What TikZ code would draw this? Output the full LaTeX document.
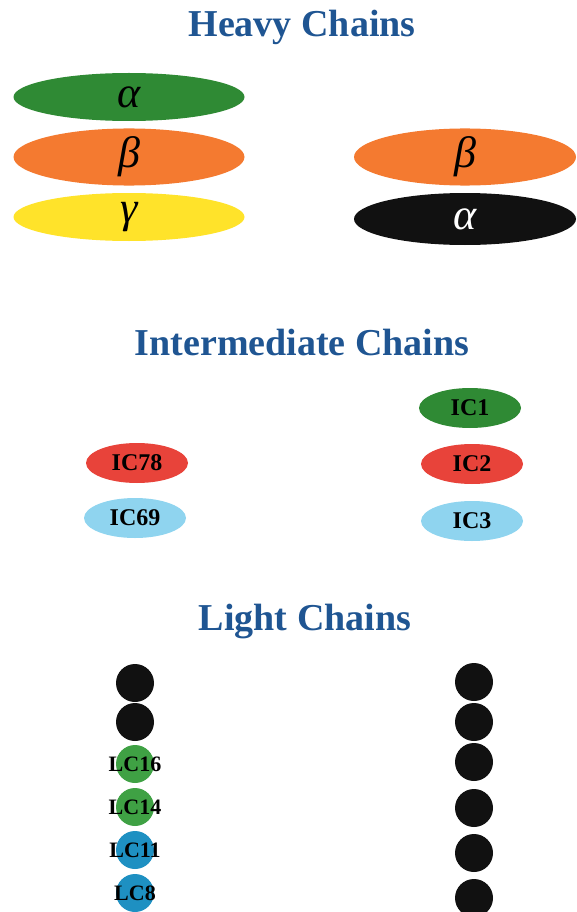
\documentclass[tikz,border=0pt]{standalone}
\usepackage{fontspec}
\setmainfont{Liberation Serif}
\usetikzlibrary{shapes.geometric}
\definecolor{titleblue}{HTML}{1F5592}
\definecolor{hgreen}{HTML}{2F8A34}
\definecolor{horange}{HTML}{F47A30}
\definecolor{hyellow}{HTML}{FFE32A}
\definecolor{hblack}{HTML}{111111}
\definecolor{ired}{HTML}{E8433A}
\definecolor{iblue}{HTML}{8FD4EF}
\definecolor{lgreen}{HTML}{3FA144}
\definecolor{lblue}{HTML}{1E90C2}
\begin{document}
\begin{tikzpicture}[x=1pt,y=-1pt,
  title/.style={text=titleblue,font=\fontsize{38}{42}\selectfont\bfseries,inner sep=0pt},
  hc/.style={ellipse,draw=none,minimum width=231pt,minimum height=48pt,inner sep=0pt,font=\fontsize{44}{44}\selectfont\itshape},
  ic/.style={ellipse,draw=none,minimum width=102pt,minimum height=40pt,inner sep=0pt,font=\fontsize{24}{24}\selectfont\bfseries},
  lc/.style={circle,draw=none,minimum size=38pt,inner sep=0pt,font=\fontsize{22}{22}\selectfont\bfseries}]
\useasboundingbox (0,0) rectangle (576,912);
% titles
\node[title] (t1) at (302,27) {Heavy Chains};
\node[title] (t2) at (302,342) {Intermediate Chains};
\node[title] (t3) at (305,622) {Light Chains};
% heavy chains
\node[hc,fill=hgreen] (ha) at (129,97) {α};
\node[hc,fill=horange] (hb) at (129,157) {β};
\node[hc,fill=hyellow] (hg) at (129,217) {γ};
\node[hc,fill=horange,minimum width=222pt] (hb2) at (465,157) {β};
\node[hc,fill=hblack,text=white,minimum width=222pt,minimum height=52pt] (ha2) at (465,219) {α};
% intermediate chains
\node[ic,fill=hgreen] (ic1) at (470,408) {IC1};
\node[ic,fill=ired] (ic78) at (137,463) {IC78};
\node[ic,fill=ired] (ic2) at (472,464) {IC2};
\node[ic,fill=iblue] (ic69) at (135,518) {IC69};
\node[ic,fill=iblue] (ic3) at (472,521) {IC3};
% light chains left
\node[lc,fill=hblack] (l1) at (135,683) {};
\node[lc,fill=hblack] (l2) at (135,722) {};
\node[lc,fill=lgreen] (l3) at (135,764) {\makebox[0pt]{LC16}};
\node[lc,fill=lgreen] (l4) at (135,807) {\makebox[0pt]{LC14}};
\node[lc,fill=lblue] (l5) at (135,850) {\makebox[0pt]{LC11}};
\node[lc,fill=lblue] (l6) at (135,893) {\makebox[0pt]{LC8}};
% light chains right
\node[lc,fill=hblack] (r1) at (474,682) {};
\node[lc,fill=hblack] (r2) at (474,722) {};
\node[lc,fill=hblack] (r3) at (474,762) {};
\node[lc,fill=hblack] (r4) at (474,808) {};
\node[lc,fill=hblack] (r5) at (474,853) {};
\node[lc,fill=hblack] (r6) at (474,898) {};
\end{tikzpicture}
\end{document}
